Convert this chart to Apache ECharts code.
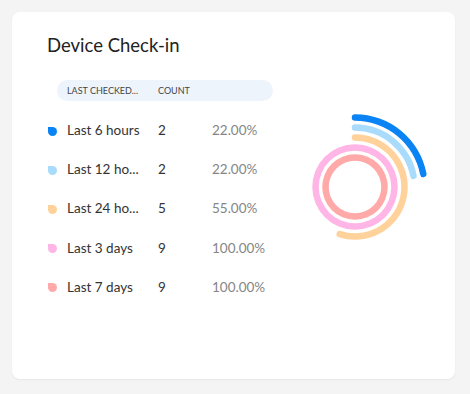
<!DOCTYPE html>
<html lang="en">
<head>
    <meta charset="UTF-8">
    <title>Device Check-in</title>
    <script src="https://cdn.jsdelivr.net/npm/echarts@6/dist/echarts.min.js"></script>
    <style>
        body { margin: 0; background: #f4f4f4; font-family: Lato, "Open Sans", sans-serif; }
        #page { position: relative; width: 470px; height: 394px; overflow: hidden; }
        .card {
            position: absolute; left: 12px; top: 12px; width: 443px; height: 367px;
            background: #fff; border-radius: 8px; box-shadow: 0 1px 2px rgba(0,0,0,0.06);
        }
        .title { position: absolute; left: 47px; top: 34px; font-size: 18.5px; color: #222; }
        .head {
            position: absolute; left: 57px; top: 80px; width: 216px; height: 21px;
            background: #eef4fc; border-radius: 11px;
        }
        .head span { position: absolute; top: 5px; font-size: 9px; color: #444; }
        .row { position: absolute; left: 0; height: 20px; font-size: 13.5px; color: #333; }
        .row .dot {
            position: absolute; left: 48px; top: 5.5px; width: 9px; height: 9px;
            border-radius: 0 50% 50% 50%;
        }
        .row span { position: absolute; top: 1px; white-space: nowrap; }
        .row .pct { color: #858585; }
        #main { position: absolute; left: 0; top: 0; width: 470px; height: 394px; }
    </style>
</head>
<body>
<div id="page">
    <div class="card"></div>
    <div class="title">Device Check-in</div>
    <div class="head"><span style="left:10px">LAST CHECKED...</span><span style="left:101px">COUNT</span></div>
    <div id="rows"></div>
    <div id="main"></div>
</div>
<script>
    // 数据
    var labels = ['Last 6 hours', 'Last 12 ho...', 'Last 24 ho...', 'Last 3 days', 'Last 7 days'];
    var counts = [2, 2, 5, 9, 9];
    var percents = [22, 22, 55, 100, 100];
    var colors = ['#0a84f4', '#a8dbfc', '#ffd29c', '#ffb5e6', '#ffa9a8'];

    // 表格行
    var rowsHtml = '';
    for (var i = 0; i < labels.length; i++) {
        var rowTop = 121 + i * 39.2;
        rowsHtml += '<div class="row" style="top:' + rowTop + 'px">' +
            '<div class="dot" style="background:' + colors[i] + '"></div>' +
            '<span style="left:67px">' + labels[i] + '</span>' +
            '<span style="left:158px">' + counts[i] + '</span>' +
            '<span class="pct" style="left:212px">' + percents[i].toFixed(2) + '%</span>' +
            '</div>';
    }
    document.getElementById('rows').innerHTML = rowsHtml;

    // 环形图，内圈为最后一项
    var myChart = echarts.init(document.getElementById('main'));
    var ringNames = labels.slice().reverse();
    var ringData = percents.map(function (v, i) {
        return { value: v, itemStyle: { color: colors[i] } };
    }).reverse();

    var option = {
        animation: false,
        polar: { center: [355, 187], radius: [24.5, 74.5] },
        angleAxis: { type: 'value', max: 100, startAngle: 90, show: false },
        radiusAxis: { type: 'category', data: ringNames, show: false },
        series: [{
            type: 'bar',
            coordinateSystem: 'polar',
            data: ringData,
            barWidth: 6.5,
            roundCap: true
        }]
    };
    myChart.setOption(option);
</script>
</body>
</html>
